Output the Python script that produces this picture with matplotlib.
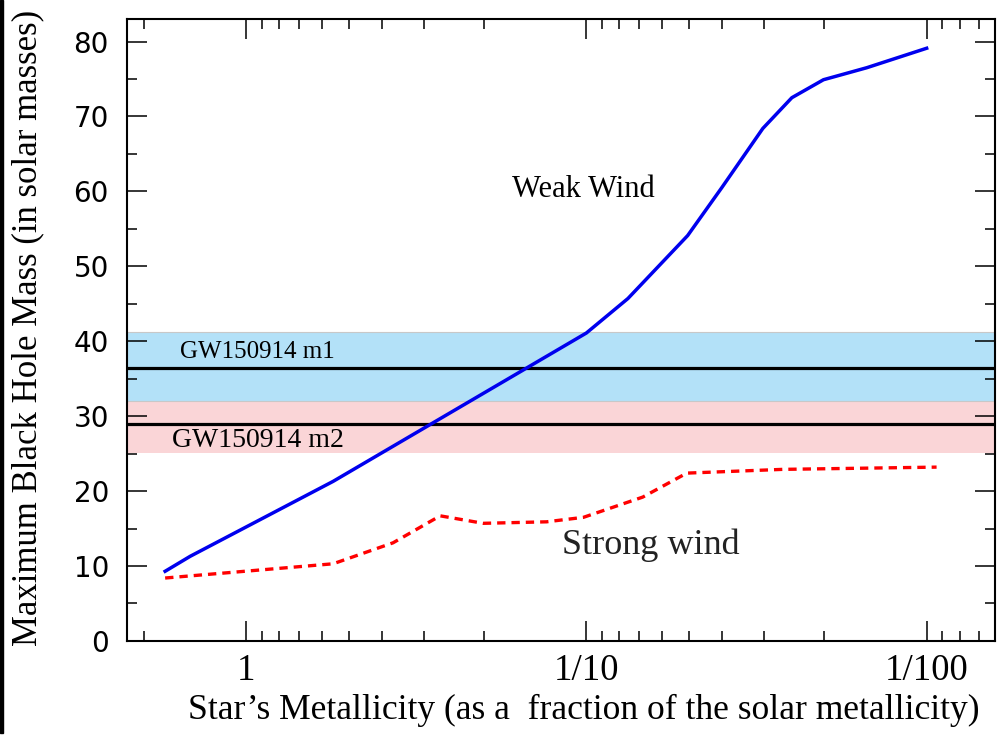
import matplotlib
matplotlib.use('Agg')
import matplotlib.pyplot as plt
from matplotlib.ticker import FixedLocator, FixedFormatter, MultipleLocator
from matplotlib.patches import Rectangle

# metallicity (fraction of solar) vs max black hole mass
weak_z = [1.73, 1.46, 0.555, 0.1, 0.0755, 0.0504, 0.040, 0.0303, 0.0249, 0.0201, 0.015, 0.01]
weak_mass = [9.3, 11.3, 21.3, 41.1, 45.7, 54.1, 60.5, 68.4, 72.5, 74.9, 76.5, 79.1]

strong_z = [1.73, 0.555, 0.370, 0.269, 0.201, 0.131, 0.102, 0.0683, 0.0507, 0.0265, 0.00935]
strong_mass = [8.4, 10.3, 13.1, 16.7, 15.7, 15.9, 16.5, 19.2, 22.4, 22.9, 23.2]

# GW150914 component masses with ranges
m1, m1_lo, m1_hi = 36.4, 32.0, 41.2
m2, m2_lo, m2_hi = 28.9, 25.1, 33.0

xtick_vals = [1, 0.1, 0.01]
xtick_labels = ['1', '1/10', '1/100']

serif = 'Liberation Serif'

fig = plt.figure(figsize=(10.06, 7.46), dpi=100)
ax = fig.add_axes([0.1262, 0.1408, 0.989 - 0.1262, 0.9745 - 0.1408])

ax.axhspan(m2_lo, m2_hi, color='#fad5d7', lw=0, zorder=1)
ax.axhspan(m1_lo, m1_hi, facecolor='#b3e1f8', edgecolor='#c8c8c8', lw=0.8, zorder=1)
ax.axhline(m1, color='black', lw=2.3, zorder=2)
ax.axhline(m2, color='black', lw=2.3, zorder=2)

ax.plot(weak_z, weak_mass, color='#0000ee', lw=2.5, zorder=3)
ax.plot(strong_z, strong_mass, color='#ff0000', lw=2.4, linestyle=(0, (2.5, 1.8)), zorder=3)

ax.set_xscale('log')
ax.set_xlim(2.24, 0.0063)
ax.set_ylim(0, 83)

ax.xaxis.set_major_locator(FixedLocator(xtick_vals))
ax.xaxis.set_major_formatter(FixedFormatter(xtick_labels))
minors = [k * 10.0 ** e for e in (0, -1, -2, -3) for k in range(2, 10)]
ax.xaxis.set_minor_locator(FixedLocator(minors))
ax.xaxis.set_minor_formatter(FixedFormatter([''] * len(minors)))
ax.yaxis.set_major_locator(MultipleLocator(10))
ax.yaxis.set_minor_locator(MultipleLocator(5))

ax.tick_params(which='both', direction='in', top=True, right=True, width=1.1)
ax.tick_params(which='major', length=14.4)
ax.tick_params(which='minor', length=7.2)
ax.tick_params(axis='y', labelsize=20, pad=13)
ax.tick_params(axis='x', labelsize=26.5, pad=9)
for lab in ax.get_xticklabels():
    lab.set_family(serif)
for lab in ax.get_yticklabels():
    lab.set_family('DejaVu Sans')
for s in ax.spines.values():
    s.set_linewidth(1.5)

ax.text(0.102, 60.3, 'Weak Wind', family=serif, fontsize=22, ha='center', va='center')
ax.text(0.118, 12.8, 'Strong wind', family=serif, fontsize=26, ha='left', va='center', color='#222222')
ax.text(1.56, 38.5, 'GW150914 m1', family=serif, fontsize=18, ha='left', va='center')
ax.text(1.65, 26.7, 'GW150914 m2', family=serif, fontsize=20, ha='left', va='center')

fig.text(0.58, 0.048, 'Star\u2019s Metallicity (as a  fraction of the solar metallicity)',
         family=serif, fontsize=25.6, ha='center', va='center')
fig.text(0.028, 0.56, 'Maximum Black Hole Mass (in solar masses)',
         family=serif, fontsize=25, ha='center', va='center', rotation=90)

# dark strip along the left edge of the original image
fig.patches.append(Rectangle((0, 13 / 746), 3 / 1006, 733 / 746, transform=fig.transFigure,
                             color='black', zorder=0))

plt.savefig('out.png', dpi=100)
